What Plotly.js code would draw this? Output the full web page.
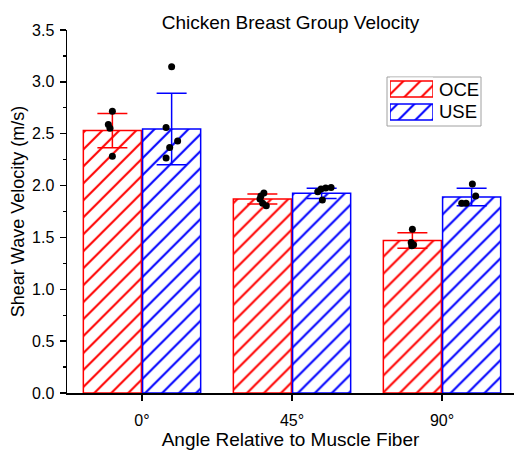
<!DOCTYPE html>
<html>
<head>
<meta charset="utf-8">
<script src="https://cdn.plot.ly/plotly-3.0.1.min.js"></script>
<style>html,body{margin:0;padding:0;background:#fff;}#chart{width:514px;height:452px;}</style>
</head>
<body>
<div id="chart"></div>
<script>
// ---- data ----
const categories = ['0°', '45°', '90°'];
const seriesNames = ['OCE', 'USE'];
const oceMean = [2.53, 1.87, 1.47];
const oceErr  = [0.165, 0.048, 0.075];
const useMean = [2.545, 1.925, 1.89];
const useErr  = [0.345, 0.05, 0.085];

// individual measurements per angle
const ocePoints = [
  [2.717, 2.588, 2.553, 2.282],
  [1.90, 1.928, 1.87, 1.83, 1.805],
  [1.58, 1.45, 1.43, 1.42]
];
const usePoints = [
  [3.146, 2.559, 2.430, 2.366, 2.266],
  [1.976, 1.982, 1.966, 1.94, 1.86],
  [2.014, 1.90, 1.83, 1.83]
];
// horizontal jitter of the dots (category units)
const oceJitter = [
  [0, -0.027, -0.016, 0],
  [-0.01, 0.01, -0.016, 0.002, 0.026],
  [0.0, -0.008, 0.008, -0.004]
];
const useJitter = [
  [0, -0.037, 0.04, -0.013, -0.037],
  [0.027, 0.063, -0.004, -0.026, 0.005],
  [0.005, 0.027, -0.066, -0.037]
];

// ---- build ----
const catIdx = categories.map((c, i) => i);
const RED = '#ff0000', BLUE = '#0000ff';
const seriesColors = [RED, BLUE];
const groupOffset = 0.1975;

function hatch(color) {
  return {color: 'white', line: {color: color, width: 1.5},
          pattern: {shape: '/', fgcolor: color, bgcolor: 'white', size: 12, solidity: 0.17}};
}

function dots(points, jitter, off) {
  const x = [], y = [];
  points.forEach((arr, i) => arr.forEach((v, j) => { x.push(i + off + jitter[i][j]); y.push(v); }));
  return {x: x, y: y, type: 'scatter', mode: 'markers', showlegend: false,
          marker: {color: 'black', size: 7}, hoverinfo: 'y', cliponaxis: false};
}

const traces = [
  {x: catIdx, y: oceMean, type: 'bar', name: seriesNames[0], marker: hatch(RED),
   error_y: {type: 'data', array: oceErr, visible: true, color: RED, thickness: 1.5, width: 15}},
  {x: catIdx, y: useMean, type: 'bar', name: seriesNames[1], marker: hatch(BLUE),
   error_y: {type: 'data', array: useErr, visible: true, color: BLUE, thickness: 1.5, width: 15}},
  dots(ocePoints, oceJitter, -groupOffset),
  dots(usePoints, useJitter, groupOffset)
];

// legend keys (large hatched swatches, as in the original)
seriesNames.forEach((nm, k) => {
  traces.push({type: 'bar', orientation: 'h', x: [1], y: [k], width: 0.7,
               xaxis: 'x2', yaxis: 'y2', marker: hatch(seriesColors[k]),
               showlegend: false, hoverinfo: 'skip', name: nm + ' key'});
});

const FONT = '"Liberation Sans", Arial, sans-serif';
// legend box (pixel geometry converted to paper)
const L = 67, W = 447, B = 393, H = 363;
const px = v => (v - L) / W, py = v => (B - v) / H;

const annotations = seriesNames.map((nm, k) => ({
  text: nm, xref: 'paper', yref: 'paper', x: px(437), y: py(89 + 23 * k),
  xanchor: 'left', yanchor: 'middle', showarrow: false, font: {size: 18.5, family: FONT}
}));

const layout = {
  width: 514, height: 452,
  margin: {l: 67, r: 0, t: 30, b: 59},
  paper_bgcolor: 'white', plot_bgcolor: 'white',
  font: {family: FONT, color: '#000', size: 16},
  barmode: 'group', bargap: 0.21, bargroupgap: 0.02,
  showlegend: false,
  title: {text: 'Chicken Breast Group Velocity', font: {size: 19, family: FONT},
          x: 0.5, xref: 'paper', y: 0.951, yref: 'container', yanchor: 'middle'},
  xaxis: {
    range: [-0.5, 2.48], tickvals: catIdx, ticktext: categories,
    showline: true, linecolor: '#000', linewidth: 1.5, zeroline: false, showgrid: false,
    ticks: 'outside', ticklen: 6, tickwidth: 1.5, tickcolor: '#000',
    tickfont: {size: 16}, ticklabelstandoff: 6, automargin: false,
    title: {text: 'Angle Relative to Muscle Fiber', font: {size: 19}, standoff: 4}
  },
  yaxis: {
    range: [0, 3.5], dtick: 0.5, tickformat: '.1f',
    showline: true, linecolor: '#000', linewidth: 1.5, zeroline: false, showgrid: false,
    ticks: 'outside', ticklen: 6, tickwidth: 1.5, tickcolor: '#000',
    minor: {dtick: 0.25, ticks: 'outside', ticklen: 3, tickwidth: 1.2, tickcolor: '#000', showgrid: false},
    tickfont: {size: 16}, ticklabelstandoff: 2, automargin: false,
    title: {text: 'Shear Wave Velocity (m/s)', font: {size: 18}, standoff: 2}
  },
  xaxis2: {domain: [px(390), px(433)], anchor: 'y2', range: [0, 1], visible: false, fixedrange: true},
  yaxis2: {domain: [py(123.5), py(77.5)], anchor: 'x2', range: [1.5, -0.5], visible: false, fixedrange: true},
  shapes: [{type: 'rect', xref: 'paper', yref: 'paper', x0: px(387), x1: px(481), y0: py(126), y1: py(77),
            line: {color: '#a0a0a0', width: 1}, fillcolor: 'rgba(0,0,0,0)', layer: 'below'}],
  annotations: annotations
};

Plotly.newPlot('chart', traces, layout, {displayModeBar: false, staticPlot: true});
</script>
</body>
</html>
